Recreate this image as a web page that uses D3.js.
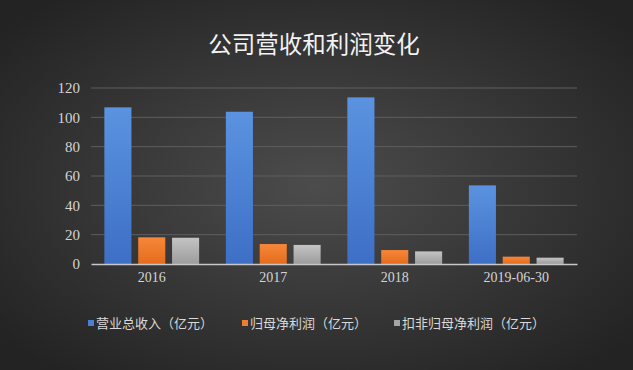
<!DOCTYPE html>
<html>
<head>
<meta charset="utf-8">
<script src="https://cdn.jsdelivr.net/npm/d3@7"></script>
<style>
  body { margin: 0; background: #2e2e2e; }
  svg { display: block; }
</style>
</head>
<body>
<svg id="chart" width="633" height="370"></svg>
<script>
// data
var categories = ["2016", "2017", "2018", "2019-06-30"];
var seriesNames = ["营业总收入（亿元）", "归母净利润（亿元）", "扣非归母净利润（亿元）"];
var revenue = [106.8, 103.8, 113.6, 53.6];
var netProfit = [18.2, 13.6, 9.5, 5.0];
var deductedProfit = [17.9, 13.0, 8.6, 4.3];
var yTicks = [0, 20, 40, 60, 80, 100, 120];

var seriesValues = [revenue, netProfit, deductedProfit];
var colors = [["#5b93e0", "#3d6fc6"], ["#f7873a", "#e46c1c"], ["#c4c4c4", "#9c9c9c"]];
var legendColors = ["#4a7fd4", "#ed7d31", "#a5a5a5"];

var margin = { top: 88, right: 56, bottom: 106, left: 91 },
    W = 633, H = 370,
    width = W - margin.left - margin.right,
    height = H - margin.top - margin.bottom;

var svg = d3.select("#chart");
var defs = svg.append("defs");

// background
var bg = defs.append("radialGradient").attr("id", "bg")
    .attr("cx", "50%").attr("cy", "50%").attr("r", "65%");
bg.append("stop").attr("offset", "0%").attr("stop-color", "#4c4c4c");
bg.append("stop").attr("offset", "100%").attr("stop-color", "#232323");
svg.append("rect").attr("width", W).attr("height", H).attr("fill", "url(#bg)");

colors.forEach(function (c, i) {
    var g = defs.append("linearGradient").attr("id", "bar" + i)
        .attr("x1", 0).attr("y1", 0).attr("x2", 0).attr("y2", 1);
    g.append("stop").attr("offset", "0%").attr("stop-color", c[0]);
    g.append("stop").attr("offset", "100%").attr("stop-color", c[1]);
});

// title
svg.append("text")
    .attr("x", 314)
    .attr("y", 53)
    .attr("text-anchor", "middle")
    .style("font-family", "'Noto Sans CJK SC', sans-serif")
    .style("font-size", "23.5px")
    .attr("fill", "#f2f2f2")
    .text("公司营收和利润变化");

var g = svg.append("g").attr("transform", "translate(" + margin.left + "," + margin.top + ")");

// scales
var x0 = d3.scaleBand()
    .domain(categories)
    .range([0, width])
    .paddingInner(0.22)
    .paddingOuter(0.11);

var x1 = d3.scaleBand()
    .domain(d3.range(seriesValues.length))
    .range([0, x0.bandwidth()])
    .paddingInner(0.2);

var y = d3.scaleLinear()
    .domain([0, 120])
    .range([height, 0]);

// grid
g.append("g")
    .selectAll("line")
    .data(yTicks.filter(function (d) { return d > 0; }))
    .enter()
    .append("line")
    .attr("x1", 0)
    .attr("x2", width)
    .attr("y1", function (d) { return y(d); })
    .attr("y2", function (d) { return y(d); })
    .attr("stroke", "#5e5e5e")
    .attr("stroke-width", 1);

// y axis
var yAxis = d3.axisLeft(y).tickValues(yTicks).tickSize(0).tickPadding(11);
g.append("g")
    .call(yAxis)
    .call(function (a) { a.select(".domain").remove(); })
    .selectAll("text")
    .style("font-family", "'Liberation Serif', serif")
    .style("font-size", "15px")
    .attr("fill", "#d4d4d4");

// bars
var groups = g.selectAll(".grp")
    .data(categories)
    .enter()
    .append("g")
    .attr("class", "grp")
    .attr("transform", function (d) { return "translate(" + x0(d) + ",0)"; });

groups.selectAll("rect")
    .data(function (d, ci) { return seriesValues.map(function (s, si) { return { s: si, v: s[ci] }; }); })
    .enter()
    .append("rect")
    .attr("x", function (d) { return x1(d.s); })
    .attr("y", function (d) { return y(d.v); })
    .attr("width", x1.bandwidth())
    .attr("height", function (d) { return height - y(d.v); })
    .attr("fill", function (d) { return "url(#bar" + d.s + ")"; });

// x axis
var xAxis = d3.axisBottom(x0).tickSize(0).tickPadding(8);
g.append("g")
    .attr("transform", "translate(0," + height + ")")
    .call(xAxis)
    .call(function (a) { a.select(".domain").attr("stroke", "#c8c8c8").attr("stroke-width", 1.5); })
    .selectAll("text")
    .style("font-family", "'Liberation Serif', serif")
    .style("font-size", "14px")
    .attr("fill", "#d4d4d4");

// legend
var legendX = [88, 242, 394];
var legend = svg.append("g")
    .selectAll("g")
    .data(seriesNames)
    .enter()
    .append("g")
    .attr("transform", function (d, i) { return "translate(" + legendX[i] + ",323)"; });

legend.append("rect")
    .attr("x", 0)
    .attr("y", -3)
    .attr("width", 6)
    .attr("height", 6)
    .attr("fill", function (d, i) { return legendColors[i]; });

legend.append("text")
    .attr("x", 8)
    .attr("y", 5)
    .style("font-family", "'Noto Sans CJK SC', sans-serif")
    .style("font-size", "13px")
    .attr("fill", "#d9d9d9")
    .text(function (d) { return d; });
</script>
</body>
</html>
